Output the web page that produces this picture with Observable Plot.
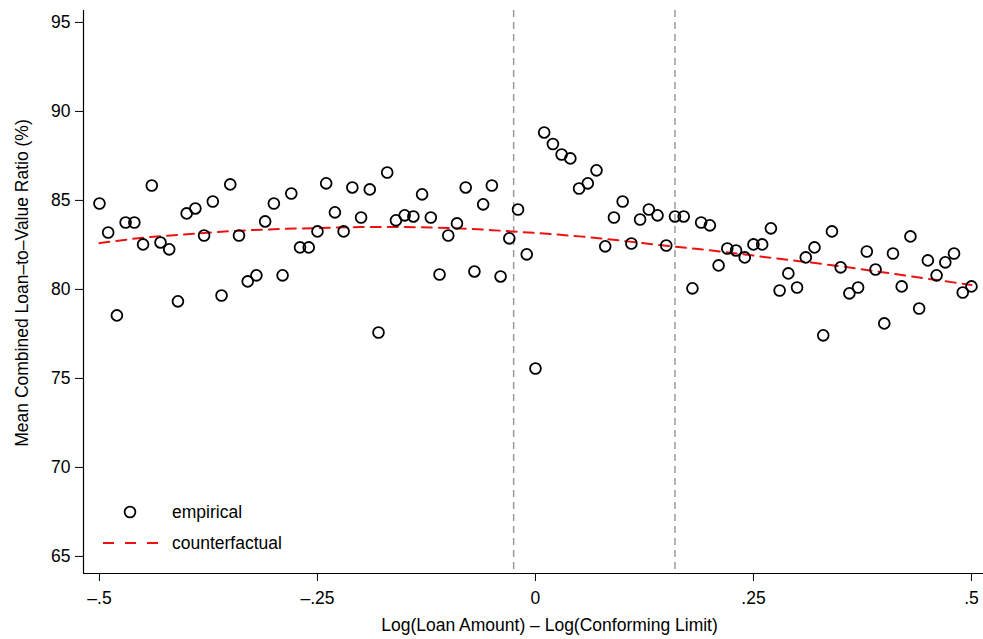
<!DOCTYPE html>
<html>
<head>
<meta charset="utf-8">
<script src="https://cdn.jsdelivr.net/npm/d3@7"></script>
<script src="https://cdn.jsdelivr.net/npm/@observablehq/plot@0.6"></script>
<style>
  html, body { margin: 0; padding: 0; background: #fff; }
  #wrap { position: relative; width: 983px; height: 639px; font-family: "Liberation Sans", Arial, sans-serif; }
  #legend { position: absolute; left: 0; top: 0; pointer-events: none; }
</style>
</head>
<body>
<div id="wrap"></div>
<script>
// Bin centres: Log(Loan Amount) - Log(Conforming Limit)
const binX = [
  -0.50, -0.49, -0.48, -0.47, -0.46, -0.45, -0.44, -0.43, -0.42, -0.41,
  -0.40, -0.39, -0.38, -0.37, -0.36, -0.35, -0.34, -0.33, -0.32, -0.31,
  -0.30, -0.29, -0.28, -0.27, -0.26, -0.25, -0.24, -0.23, -0.22, -0.21,
  -0.20, -0.19, -0.18, -0.17, -0.16, -0.15, -0.14, -0.13, -0.12, -0.11,
  -0.10, -0.09, -0.08, -0.07, -0.06, -0.05, -0.04, -0.03, -0.02, -0.01,
   0.00,  0.01,  0.02,  0.03,  0.04,  0.05,  0.06,  0.07,  0.08,  0.09,
   0.10,  0.11,  0.12,  0.13,  0.14,  0.15,  0.16,  0.17,  0.18,  0.19,
   0.20,  0.21,  0.22,  0.23,  0.24,  0.25,  0.26,  0.27,  0.28,  0.29,
   0.30,  0.31,  0.32,  0.33,  0.34,  0.35,  0.36,  0.37,  0.38,  0.39,
   0.40,  0.41,  0.42,  0.43,  0.44,  0.45,  0.46,  0.47,  0.48,  0.49,
   0.50
];
// Empirical mean CLTV (%)
const empirical = [
  84.83, 83.20, 78.54, 83.76, 83.76, 82.53, 85.84, 82.64, 82.25, 79.33,
  84.27, 84.55, 83.03, 84.94, 79.66, 85.90, 83.03, 80.45, 80.79, 83.82,
  84.83, 80.79, 85.39, 82.36, 82.36, 83.26, 85.96, 84.33, 83.26, 85.73,
  84.04, 85.62, 77.58, 86.57, 83.88, 84.16, 84.10, 85.34, 84.04, 80.84,
  83.03, 83.71, 85.73, 81.01, 84.78, 85.84, 80.73, 82.87, 84.49, 81.97,
  75.56, 88.82, 88.17, 87.58, 87.36, 85.67, 85.96, 86.69, 82.42, 84.04,
  84.94, 82.58, 83.93, 84.49, 84.16, 82.47, 84.10, 84.10, 80.06, 83.76,
  83.60, 81.35, 82.30, 82.19, 81.80, 82.53, 82.53, 83.43, 79.94, 80.90,
  80.11, 81.80, 82.36, 77.42, 83.26, 81.24, 79.78, 80.11, 82.13, 81.12,
  78.09, 82.02, 80.17, 82.98, 78.93, 81.63, 80.79, 81.52, 82.02, 79.83,
  80.17
];
// Counterfactual curve
const cfX = [-0.50, -0.45, -0.40, -0.35, -0.30, -0.25, -0.20, -0.15, -0.10, -0.05, 0.00,
              0.05,  0.10,  0.15,  0.20,  0.25,  0.30,  0.35,  0.40,  0.45,  0.50];
const cfY = [82.60, 82.90, 83.10, 83.27, 83.38, 83.45, 83.50, 83.50, 83.45, 83.33, 83.17,
             82.98, 82.73, 82.45, 82.20, 81.90, 81.60, 81.30, 80.95, 80.60, 80.25];
// Vertical reference lines
const refLines = [-0.025, 0.16];
// Axis ticks and labels
const xTicks = [-0.5, -0.25, 0, 0.25, 0.5];
const xTickLabels = ["\u2013.5", "\u2013.25", "0", ".25", ".5"];
const yTicks = [65, 70, 75, 80, 85, 90, 95];
const xDomain = [-0.5183, 0.5138];
const yDomain = [64.04, 95.67];
const xLabel = "Log(Loan Amount) \u2013 Log(Conforming Limit)";
const yLabel = "Mean Combined Loan\u2013to\u2013Value Ratio (%)";
const legendLabels = ["empirical", "counterfactual"];

const pts = binX.map((x, i) => ({x, y: empirical[i]}));
const cf = cfX.map((x, i) => ({x, y: cfY[i]}));

const FONT = "Liberation Sans, Arial, sans-serif";
const FS = 17.5;

const chart = Plot.plot({
  width: 983,
  height: 639,
  marginLeft: 83,
  marginRight: 0,
  marginTop: 10,
  marginBottom: 66,
  style: {fontFamily: FONT, fontSize: FS + "px", background: "#fff", color: "#000"},
  x: {domain: xDomain, label: null},
  y: {domain: yDomain, label: null},
  marks: [
    Plot.ruleX(refLines, {stroke: "#9a9a9a", strokeWidth: 1.5, strokeDasharray: "7,5"}),
    Plot.line(cf, {x: "x", y: "y", stroke: "#ee1111", strokeWidth: 2, strokeDasharray: "10,7", curve: "natural"}),
    Plot.dot(pts, {x: "x", y: "y", r: 5.4, stroke: "#000", strokeWidth: 1.8, fill: "none"}),
    Plot.axisX({ticks: xTicks, tickFormat: d => xTickLabels[xTicks.indexOf(d)], tickSize: 8, tickPadding: 10, fontSize: FS, label: null, stroke: "#000", fill: "#000"}),
    Plot.axisY({ticks: yTicks, tickSize: 8, tickPadding: 5, fontSize: FS, label: null, stroke: "#000", fill: "#000"}),
    Plot.ruleX([xDomain[0]], {stroke: "#000", strokeWidth: 1.2}),
    Plot.ruleY([yDomain[0]], {stroke: "#000", strokeWidth: 1.2}),
    Plot.text([xLabel], {text: d => d, frameAnchor: "bottom", textAnchor: "middle", lineAnchor: "middle", dx: 16, dy: 52, fontSize: FS, fill: "#000"}),
    Plot.text([yLabel], {text: d => d, frameAnchor: "left", textAnchor: "middle", lineAnchor: "middle", rotate: -90, dx: -61, dy: -9, fontSize: FS, fill: "#000"})
  ]
});

const wrap = document.getElementById("wrap");
wrap.appendChild(chart);

// Legend overlay (inside plot area, lower left)
const ns = "http://www.w3.org/2000/svg";
const leg = document.createElementNS(ns, "svg");
leg.setAttribute("id", "legend");
leg.setAttribute("width", 983);
leg.setAttribute("height", 639);
const c = document.createElementNS(ns, "circle");
c.setAttribute("cx", 130); c.setAttribute("cy", 512); c.setAttribute("r", 5.4);
c.setAttribute("fill", "none"); c.setAttribute("stroke", "#000"); c.setAttribute("stroke-width", 1.8);
leg.appendChild(c);
const l = document.createElementNS(ns, "line");
l.setAttribute("x1", 103); l.setAttribute("x2", 158); l.setAttribute("y1", 543); l.setAttribute("y2", 543);
l.setAttribute("stroke", "#ee1111"); l.setAttribute("stroke-width", 2); l.setAttribute("stroke-dasharray", "11,11");
leg.appendChild(l);
legendLabels.forEach((t, i) => {
  const tx = document.createElementNS(ns, "text");
  tx.setAttribute("x", 172); tx.setAttribute("y", 512 + i * 31);
  tx.setAttribute("dy", "0.35em");
  tx.setAttribute("font-family", FONT); tx.setAttribute("font-size", FS);
  tx.textContent = t;
  leg.appendChild(tx);
});
wrap.appendChild(leg);
</script>
</body>
</html>
